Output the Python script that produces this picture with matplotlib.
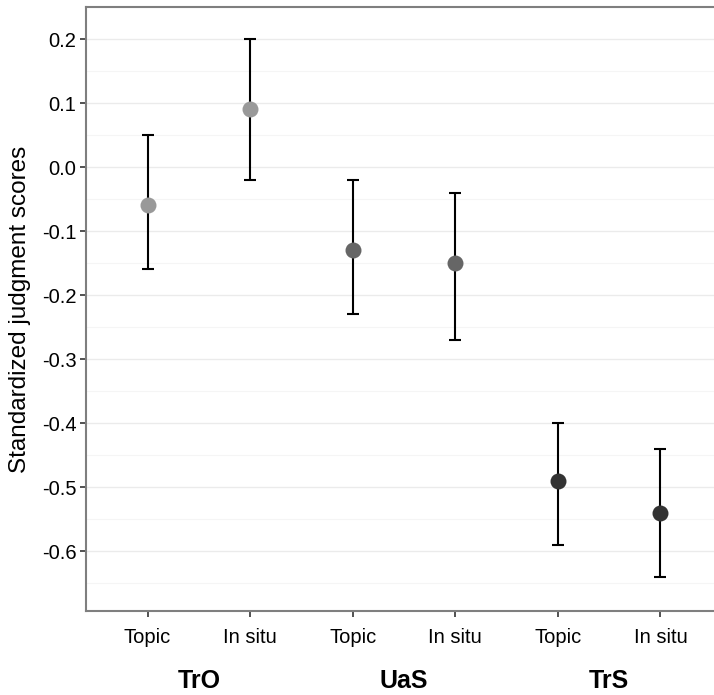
import matplotlib
matplotlib.use("Agg")
import matplotlib.pyplot as plt
import numpy as np

plt.rcParams['font.family'] = ['Liberation Sans', 'DejaVu Sans']

groups = ["TrO", "UaS", "TrS"]
conditions = ["Topic", "In situ", "Topic", "In situ", "Topic", "In situ"]
means = [-0.06, 0.09, -0.13, -0.15, -0.49, -0.54]
lower = [-0.16, -0.02, -0.23, -0.27, -0.59, -0.64]
upper = [0.05, 0.20, -0.02, -0.04, -0.40, -0.44]
colors = ["#999999", "#999999", "#666666", "#666666", "#333333", "#333333"]
yticks = [-0.6, -0.5, -0.4, -0.3, -0.2, -0.1, 0.0, 0.1, 0.2]

fig = plt.figure(figsize=(7.14, 6.95), dpi=100)
ax = fig.add_axes([86/714, 1-611/695, (722-86)/714, (611-7)/695])

x = np.arange(1, len(means) + 1)
for xi, m, lo, hi, c in zip(x, means, lower, upper, colors):
    ax.errorbar(xi, m, yerr=[[m - lo], [hi - m]], fmt='none', ecolor='black',
                elinewidth=1.5, capsize=4.3, capthick=1.5, zorder=2)
    ax.plot(xi, m, 'o', color=c, markersize=11.5, markeredgewidth=0, zorder=3)

ax.set_xlim(0.4, 6.6)
ax.set_ylim(-0.6935, 0.2415)
ax.set_yticks(yticks)
ax.set_yticklabels([f"{v:.1f}" for v in yticks])
ax.set_yticks([v + 0.05 for v in yticks] + [-0.65], minor=True)
ax.set_xticks(x)
ax.set_xticklabels(conditions)

ax.grid(True, axis='y', which='major', color='#ebebeb', linewidth=1.0)
ax.grid(True, axis='y', which='minor', color='#f5f5f5', linewidth=0.8)
ax.set_axisbelow(True)

for s in ax.spines.values():
    s.set_color('#7f7f7f')
    s.set_linewidth(1.5)

ax.tick_params(axis='both', which='major', length=4, width=1.2, color='#333333',
               labelsize=14.5, labelcolor='black', pad=3)
ax.tick_params(axis='x', pad=8)
ax.tick_params(axis='y', which='minor', length=0)

ax.set_ylabel("Standardized judgment scores", fontsize=17.5, labelpad=8)

for i, g in enumerate(groups):
    xc = (x[2*i] + x[2*i+1]) / 2
    ax.annotate(g, xy=(xc, 0), xycoords=('data', 'figure fraction'),
                xytext=(0, 14), textcoords='offset pixels',
                ha='center', va='center', fontsize=18, fontweight='bold')

fig.savefig("out.png", dpi=100)
